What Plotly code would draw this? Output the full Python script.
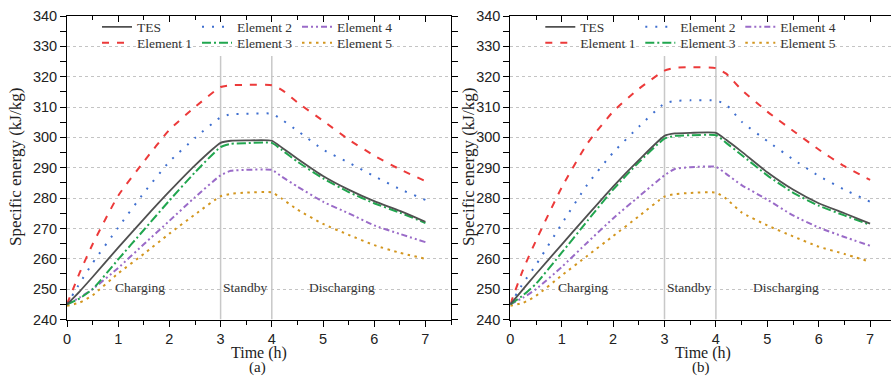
import plotly.graph_objects as go

# Time axis (h)
time_h = [0, 0.25, 0.5, 1, 1.5, 2, 2.5, 3, 3.2, 3.5, 4, 4.2, 4.5, 5, 5.5, 6, 6.5, 7]

# Panel (a): specific energy (kJ/kg)
a_tes = [245, 249.3, 254, 263.7, 273.1, 282.2, 290.8, 298.2, 298.9, 299, 298.9, 296.6, 293, 287.3, 282.8, 279, 275.8, 272.2]
a_e1 = [245, 255.5, 264.8, 280.8, 292, 302.5, 310, 316.6, 317.2, 317.3, 317.2, 315.6, 311.5, 305.5, 299.3, 294, 289.5, 285.6]
a_e2 = [245, 252, 258.6, 270.3, 281.7, 292, 299.8, 306.6, 307.6, 307.8, 307.8, 305.8, 302.2, 296, 291.7, 287.2, 283, 279.4]
a_e3 = [245, 247, 250, 259.8, 269.5, 279.2, 288.5, 296.8, 297.9, 298.1, 298.2, 295.8, 292, 286.5, 282, 278.3, 275.2, 271.8]
a_e4 = [245, 247.3, 250, 257, 264.8, 272.5, 280.3, 287.5, 289, 289.3, 289.3, 287, 283.8, 278.8, 275, 271, 268.2, 265.5]
a_e5 = [244.5, 245.6, 248, 255.2, 261.6, 268.3, 274.6, 280.6, 281.4, 281.8, 281.9, 279.8, 276.2, 271.5, 267.9, 264.5, 262, 260]

# Panel (b): specific energy (kJ/kg)
b_tes = [245, 250, 255, 264.7, 274.3, 283.8, 292.5, 300.5, 301.3, 301.5, 301.5, 299.2, 295.3, 288.5, 282.8, 278.3, 275, 271.6]
b_e1 = [245, 256.5, 266, 283.5, 298, 308.5, 316, 322, 322.9, 323.1, 322.8, 321, 315.7, 308.5, 302.2, 296, 290.5, 286]
b_e2 = [245, 252, 258, 271.5, 284.5, 295, 303.5, 311.2, 312, 312.2, 312.1, 310.8, 305.2, 298.8, 292.8, 287.3, 282.8, 278.8]
b_e3 = [245, 248, 251.8, 262, 272.5, 282.8, 291.8, 299.6, 300.5, 300.7, 300.7, 298.2, 294.2, 287.5, 281.8, 277.5, 274.3, 271.2]
b_e4 = [245, 247.2, 250, 257.3, 265.4, 273.3, 280.5, 287.5, 289.6, 290.2, 290.3, 288, 284.3, 279.5, 274.3, 270.3, 267.2, 264.3]
b_e5 = [244.5, 245.5, 247.8, 254.5, 261, 267.5, 274, 280.5, 281.3, 281.7, 281.8, 279.8, 275.3, 271, 267.4, 264, 261.6, 259]

series_names = ["TES", "Element 1", "Element 2", "Element 3", "Element 4", "Element 5"]
phase_bounds = [3, 4]
phase_labels = ["Charging", "Standby", "Discharging"]
phase_label_t = [1.42, 3.48, 5.37]
panel_tags = ["(a)", "(b)"]

W, H = 891, 377
SERIF = "Liberation Serif, Times New Roman, serif"
SANS = "Liberation Sans, Arial, sans-serif"

styles = {
    "TES": dict(color="#505050", width=1.8, dash="solid"),
    "Element 1": dict(color="#ec3a3a", width=2, dash="7px,8px"),
    "Element 2": dict(color="#3f6fcf", width=2, dash="2px,8px"),
    "Element 3": dict(color="#21a64f", width=2, dash="9px,3px,2px,3px"),
    "Element 4": dict(color="#9a6bc8", width=2, dash="6px,3px,2px,3px,2px,3px"),
    "Element 5": dict(color="#d3961f", width=2, dash="2.5px,4.5px"),
}
# legend row / column placement (column-major, 3 columns x 2 rows)
legend_row = {"TES": 0, "Element 2": 0, "Element 4": 0,
              "Element 1": 1, "Element 3": 1, "Element 5": 1}
legend_rank = {"TES": 1, "Element 2": 2, "Element 4": 3,
               "Element 1": 1, "Element 3": 2, "Element 5": 3}

panels = [
    dict(data=[a_tes, a_e1, a_e2, a_e3, a_e4, a_e5], xa="x", ya="y", legends=("legend", "legend2")),
    dict(data=[b_tes, b_e1, b_e2, b_e3, b_e4, b_e5], xa="x2", ya="y2", legends=("legend3", "legend4")),
]

fig = go.Figure()
draw_order = [1, 2, 4, 5, 3, 0]
for p in panels:
    for i in draw_order:
        name = series_names[i]
        st = styles[name]
        fig.add_trace(go.Scatter(
            x=time_h, y=p["data"][i], name=name, mode="lines",
            line=dict(color=st["color"], width=st["width"], dash=st["dash"],
                      shape="spline", smoothing=0.5),
            xaxis=p["xa"], yaxis=p["ya"],
            legend=p["legends"][legend_row[name]],
            legendrank=legend_rank[name],
        ))

def px_x(px):
    return px / W

def px_y(py):
    return 1 - py / H

y_dom = [px_y(319.5), px_y(16)]
left_dom = [px_x(67), px_x(451)]
right_dom = [px_x(510.3), 1.0]
right_max = (W - 510.3) / 51.4

axis_common = dict(
    showline=True, linecolor="black", linewidth=1,
    ticks="outside", ticklen=6, tickwidth=1, tickcolor="black",
    tickfont=dict(family=SANS, size=14.5, color="#222"),
    zeroline=False, automargin=False,
)
xcommon = dict(axis_common, dtick=1, tick0=0, showgrid=False, mirror=True,
               minor=dict(dtick=0.5, ticks="outside", ticklen=4, tickcolor="black"))
ycommon = dict(axis_common, range=[240, 340], dtick=10, domain=y_dom, mirror="allticks",
               showgrid=True, gridcolor="#c4c4c4", griddash="dot", gridwidth=1,
               minor=dict(dtick=5, ticks="outside", ticklen=4, tickcolor="black", showgrid=False))

top_common = dict(side="top", dtick=1, tick0=0, ticks="inside", ticklen=6, tickcolor="black",
                  showticklabels=False, showgrid=False, zeroline=False, automargin=False,
                  minor=dict(dtick=0.5, ticks="inside", ticklen=4, tickcolor="black"))

fig.update_layout(
    width=W, height=H,
    margin=dict(l=0, r=0, t=0, b=0, autoexpand=False),
    paper_bgcolor="white", plot_bgcolor="white",
    xaxis=dict(xcommon, domain=left_dom, range=[0, 7.5], anchor="y"),
    yaxis=dict(ycommon, anchor="x"),
    xaxis2=dict(xcommon, domain=right_dom, range=[0, right_max], anchor="y2"),
    yaxis2=dict(ycommon, anchor="x2"),
    # top tick rows pointing inward
    xaxis3=dict(top_common, overlaying="x", anchor="y", range=[0, 7.5]),
    xaxis4=dict(top_common, overlaying="x2", anchor="y2", range=[0, right_max]),
    showlegend=True,
)

# legends: one per row, per panel
leg_common = dict(orientation="h", xanchor="left", yanchor="middle",
                  bgcolor="rgba(0,0,0,0)", borderwidth=0,
                  font=dict(family=SERIF, size=13.5, color="#333"),
                  entrywidth=55, entrywidthmode="pixels", itemwidth=30,
                  traceorder="normal")
leg_x0 = [97, 97 + 443.3]
fig.update_layout(
    legend=dict(leg_common, x=px_x(leg_x0[0]), y=px_y(27)),
    legend2=dict(leg_common, x=px_x(leg_x0[0]), y=px_y(43)),
    legend3=dict(leg_common, x=px_x(leg_x0[1]), y=px_y(27)),
    legend4=dict(leg_common, x=px_x(leg_x0[1]), y=px_y(43)),
)

# invisible traces so the top overlay axes render
for xa, ya, xmax in (("x3", "y", 7.5), ("x4", "y2", right_max)):
    fig.add_trace(go.Scatter(x=[0, xmax], y=[240, 240], mode="lines", line=dict(width=0),
                             xaxis=xa, yaxis=ya, showlegend=False, hoverinfo="skip"))

shapes = []
annotations = []
centered = dict(showarrow=False, xanchor="center", yanchor="middle")
for k, (xr, yr, x_center, tag_x) in enumerate((("x", "y", 259, 257), ("x2", "y2", 703, 701))):
    for tb in phase_bounds:
        shapes.append(dict(type="line", xref=xr, yref=yr, x0=tb, x1=tb, y0=240, y1=326.8,
                           line=dict(color="#c8c8c8", width=1.5), layer="below"))
    for lab, t in zip(phase_labels, phase_label_t):
        annotations.append(dict(centered, text=lab, xref=xr, yref=yr, x=t, y=250.5,
                                font=dict(family=SERIF, size=13.5, color="#333")))
    annotations.append(dict(centered, text="Time (h)", xref="paper", yref="paper",
                            x=px_x(x_center), y=px_y(353), borderpad=0,
                            font=dict(family=SERIF, size=16, color="#222")))
    annotations.append(dict(centered, text=panel_tags[k], xref="paper", yref="paper",
                            x=px_x(tag_x), y=px_y(367.5), borderpad=0,
                            font=dict(family=SERIF, size=15, color="#222")))
for yx in (15, 468):
    annotations.append(dict(centered, text="Specific energy (kJ/kg)", xref="paper", yref="paper",
                            x=px_x(yx), y=px_y(167), textangle=-90,
                            font=dict(family=SERIF, size=17, color="#222")))

fig.update_layout(shapes=shapes, annotations=annotations)
fig.write_html("out.html")
